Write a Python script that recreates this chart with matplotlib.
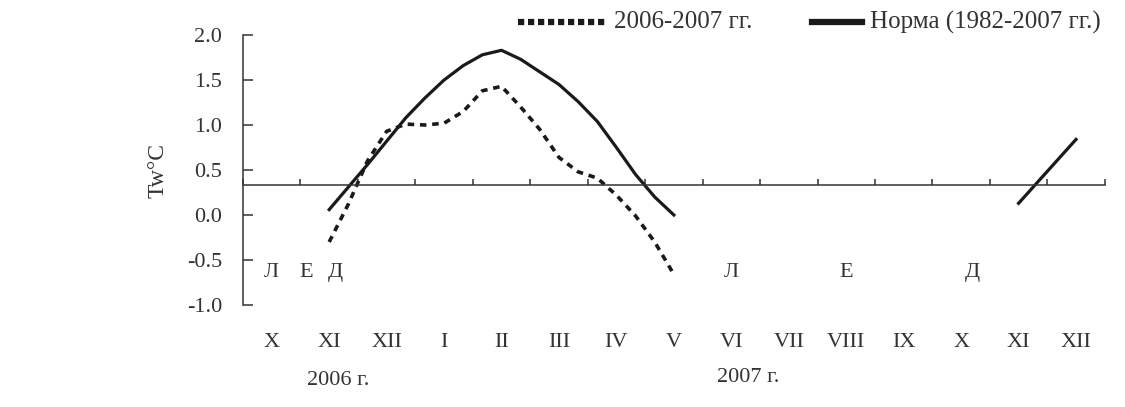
import numpy as np
import matplotlib.pyplot as plt
from matplotlib.lines import Line2D

plt.rcParams['font.family'] = ['Liberation Serif', 'DejaVu Serif']

# месяцы: X-XII 2006, I-XII 2007
months = ['X', 'XI', 'XII', 'I', 'II', 'III', 'IV', 'V', 'VI', 'VII', 'VIII', 'IX', 'X', 'XI', 'XII']

# подекадные значения Tw с XI 2006 по V 2007
dec_x = 1 + np.arange(19) / 3
tw_2006_2007 = [-0.30, 0.12, 0.60, 0.93, 1.01, 1.00, 1.02, 1.15, 1.38, 1.43,
                1.20, 0.95, 0.64, 0.48, 0.41, 0.22, -0.01, -0.30, -0.66]
tw_norm = [0.06, 0.31, 0.56, 0.82, 1.08, 1.30, 1.50, 1.66, 1.78, 1.83,
           1.73, 1.59, 1.45, 1.26, 1.04, 0.75, 0.45, 0.20, 0.00]

# норма на XI-XII 2007
norm2_x = [13, 14]
norm2_y = [0.13, 0.84]

# ледовые фазы
phase_labels = ['Л', 'Е', 'Д', 'Л', 'Е', 'Д']
phase_x = [0.0, 0.6, 1.1, 8.0, 10.0, 12.2]
phase_y = -0.64

txt = '#333333'
fs = 16

fig = plt.figure(figsize=(11.25, 4.07), dpi=100)
ax = fig.add_axes([0.216, 0.2506, 0.766, 0.6634])

ax.plot(dec_x, tw_2006_2007, color='#1a1a1a', lw=2.6, ls=(0, (1.8, 1.6)))
ax.plot(dec_x, tw_norm, color='#1a1a1a', lw=2.3)
ax.plot(norm2_x, norm2_y, color='#1a1a1a', lw=2.3)

ax.set_xlim(-0.5, 14.5)
ax.set_ylim(-1.0, 2.0)

ax.spines['top'].set_visible(False)
ax.spines['right'].set_visible(False)
ax.spines['bottom'].set_position(('data', 0.33))
for s in ('left', 'bottom'):
    ax.spines[s].set_linewidth(1.1)
    ax.spines[s].set_color(txt)

ax.set_yticks(np.arange(-1.0, 2.01, 0.5))
ax.set_yticklabels([f'{v:.1f}' for v in np.arange(-1.0, 2.01, 0.5)])
ax.tick_params(axis='y', direction='in', length=7, width=1.1, labelsize=fs,
               pad=15, color=txt, labelcolor=txt)
ax.set_xticks(np.arange(-0.5, 15, 1))
ax.set_xticklabels([])
ax.tick_params(axis='x', direction='in', length=4, width=1.1, color=txt)

ax.set_ylabel('Tw°C', fontsize=17, color=txt)
ax.yaxis.set_label_coords(-0.086, 0.5)

# подписи месяцев и лет под осью
for i, m in enumerate(months):
    ax.text(i, -1.42, m, ha='center', va='center', fontsize=fs, color=txt)
ax.text(1.15, -1.84, '2006 г.', ha='center', va='center', fontsize=fs, color=txt)
ax.text(8.3, -1.81, '2007 г.', ha='center', va='center', fontsize=fs, color=txt)

for lab, px in zip(phase_labels, phase_x):
    ax.text(px, phase_y, lab, ha='center', va='center', fontsize=fs, color=txt)

# легенда над графиком
y_leg = 1 - 22 / 407
fig.add_artist(Line2D([518 / 1125, 608 / 1125], [y_leg, y_leg], color='#1a1a1a',
                      lw=4.5, ls=(0, (1.0, 0.6))))
fig.text(614 / 1125, y_leg, '2006-2007 гг.', ha='left', va='center', fontsize=18, color=txt)
fig.add_artist(Line2D([812 / 1125, 862 / 1125], [y_leg, y_leg], color='#1a1a1a', lw=4.5))
fig.text(870 / 1125, y_leg, 'Норма (1982-2007 гг.)', ha='left', va='center', fontsize=18, color=txt)

fig.savefig('out.png', dpi=100)
